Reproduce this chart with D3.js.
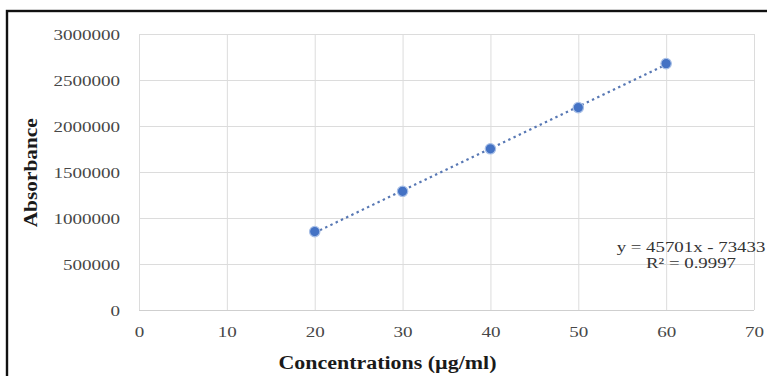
<!DOCTYPE html>
<html>
<head>
<meta charset="utf-8">
<script src="https://cdn.jsdelivr.net/npm/d3@7"></script>
<style>
  html, body { margin: 0; padding: 0; background: #fff; overflow: hidden; }
  svg { display: block; }
  text { font-family: "Liberation Serif", "Times New Roman", serif; }
</style>
</head>
<body>
<svg id="chart" width="767" height="376"></svg>
<script>
// Calibration data: concentration (µg/ml) vs. measured absorbance
const concentrations = [20, 30, 40, 50, 60];
const absorbance = [852000, 1290000, 1752000, 2200000, 2678000];

// Axis ticks
const xTickValues = [0, 10, 20, 30, 40, 50, 60, 70];
const yTickValues = [0, 500000, 1000000, 1500000, 2000000, 2500000, 3000000];

// Linear fit reported on the chart
const trendSlope = 45701;
const trendIntercept = -73433;
const rSquared = "0.9997";

const xTitle = "Concentrations (\u00b5g/ml)";
const yTitle = "Absorbance";

const svg = d3.select("#chart");
const plot = { left: 139, right: 754, top: 34, bottom: 310 };
const stretch = 1.27; // wide set type used throughout

const x = d3.scaleLinear().domain([0, 70]).range([plot.left, plot.right]);
const y = d3.scaleLinear().domain([0, 3000000]).range([plot.bottom, plot.top]);

svg.append("rect").attr("width", 767).attr("height", 376).attr("fill", "#fff");

// Gridlines
svg.append("g")
  .attr("transform", `translate(0,${plot.bottom})`)
  .call(d3.axisBottom(x).tickValues(xTickValues).tickSize(-(plot.bottom - plot.top)).tickFormat(""))
  .call(g => g.select(".domain").remove())
  .call(g => g.selectAll(".tick line").attr("stroke", "#dcdcdc").attr("stroke-width", 1));

svg.append("g")
  .attr("transform", `translate(${plot.left},0)`)
  .call(d3.axisLeft(y).tickValues(yTickValues).tickSize(-(plot.right - plot.left)).tickFormat(""))
  .call(g => g.select(".domain").remove())
  .call(g => g.selectAll(".tick line").attr("stroke", d => d === 0 ? "#cfcfcf" : "#dcdcdc").attr("stroke-width", 1));

// Tick labels
svg.append("g")
  .attr("transform", `translate(0,${plot.bottom})`)
  .call(d3.axisBottom(x).tickValues(xTickValues).tickSize(0).tickPadding(0).tickFormat(d3.format("d")))
  .call(g => g.select(".domain").remove())
  .call(g => g.selectAll(".tick text")
    .attr("y", 27).attr("dy", null)
    .attr("transform", `scale(${stretch},1)`)
    .attr("fill", "#474747").attr("font-size", 15)
    .attr("font-family", "Liberation Serif, Times New Roman, serif"));

svg.append("g")
  .attr("transform", "translate(120,0)")
  .call(d3.axisLeft(y).tickValues(yTickValues).tickSize(0).tickPadding(0).tickFormat(d3.format("d")))
  .call(g => g.select(".domain").remove())
  .call(g => g.selectAll(".tick text")
    .attr("x", 0).attr("y", 5).attr("dy", null)
    .attr("transform", `scale(${stretch},1)`)
    .attr("fill", "#474747").attr("font-size", 15)
    .attr("font-family", "Liberation Serif, Times New Roman, serif"));

// Trendline over the measured range
const trend = d3.extent(concentrations).map(c => [c, trendSlope * c + trendIntercept]);
svg.append("path")
  .datum(trend)
  .attr("d", d3.line().x(d => x(d[0])).y(d => y(d[1])))
  .attr("fill", "none")
  .attr("stroke", "#5878b4")
  .attr("stroke-width", 2.2)
  .attr("stroke-dasharray", "2.4,3.4");

// Data points
svg.append("g")
  .selectAll("circle")
  .data(concentrations.map((c, i) => [c, absorbance[i]]))
  .join("circle")
  .attr("cx", d => x(d[0]))
  .attr("cy", d => y(d[1]))
  .attr("r", 5.2)
  .attr("fill", "#4472c4")
  .attr("stroke", "#a8bfe6")
  .attr("stroke-width", 1.2);

// Fit equation
const eq = svg.append("g").attr("fill", "#333").attr("font-size", 14.5);
eq.append("text")
  .attr("transform", `translate(691,252) scale(${stretch + 0.03},1)`)
  .attr("text-anchor", "middle")
  .text(`y = ${trendSlope}x - ${Math.abs(trendIntercept)}`);
eq.append("text")
  .attr("transform", `translate(691,268) scale(${stretch + 0.03},1)`)
  .attr("text-anchor", "middle")
  .text(`R\u00b2 = ${rSquared}`);

// Axis titles
svg.append("text")
  .attr("x", 387.5).attr("y", 369)
  .attr("text-anchor", "middle")
  .attr("font-size", 18).attr("font-weight", "bold").attr("fill", "#1a1a1a")
  .attr("textLength", 218).attr("lengthAdjust", "spacingAndGlyphs")
  .text(xTitle);

svg.append("text")
  .attr("transform", "translate(37,172.8) rotate(-90)")
  .attr("text-anchor", "middle")
  .attr("font-size", 18).attr("font-weight", "bold").attr("fill", "#1a1a1a")
  .attr("textLength", 109).attr("lengthAdjust", "spacingAndGlyphs")
  .text(yTitle);

// Outer frame
svg.append("rect")
  .attr("x", 7).attr("y", 11)
  .attr("width", 900).attr("height", 500)
  .attr("fill", "none")
  .attr("stroke", "#111")
  .attr("stroke-width", 2.4);
</script>
</body>
</html>
